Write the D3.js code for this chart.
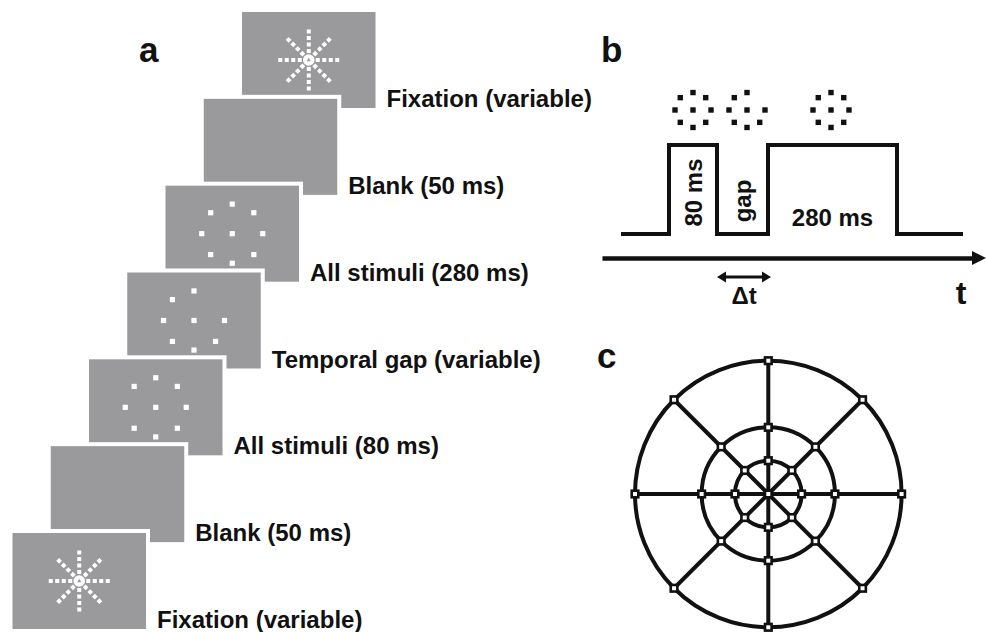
<!DOCTYPE html>
<html><head><meta charset="utf-8">
<script src="https://cdn.jsdelivr.net/npm/d3@7"></script>
<style>
body{margin:0;background:#fff}
svg{display:block}
text{font-family:"Liberation Sans",Arial,sans-serif;font-weight:bold;fill:#111}
</style>
</head><body>
<script>
// ---- Panel a: trial sequence (top = last frame) ----
const frameLabels = ["Fixation (variable)", "Blank (50 ms)", "All stimuli (280 ms)", "Temporal gap (variable)", "All stimuli (80 ms)", "Blank (50 ms)", "Fixation (variable)"];
const frameContents = ["fixation", "blank", "stimuli", "gap", "stimuli", "blank", "fixation"];
// stimulus positions: angle in degrees (null = centre)
const stimAngles = [null, 0, 45, 90, 135, 180, 225, 270, 315];
const gapMissingAngles = [45];
const fixationArmAngles = [0, 45, 90, 135, 180, 225, 270, 315];
const fixationDotSteps = [1, 2, 3, 4];

// ---- Panel b: timing ----
const signalEdges = [0, 80, 160, 245, 460, 570];
const signalLevels = [0, 1, 0, 1, 0, 0];
const signalLabels = [{text: "80 ms", t: 120, rot: true}, {text: "gap", t: 202.5, rot: true}, {text: "280 ms", t: 352.5, rot: false}];
const patternTimes = [120, 210, 350];
const patternTypes = ["stimuli", "gap", "stimuli"];

// ---- Panel c: stimulus layout ----
const ringRadii = [1, 2, 4];
const spokeAngles = [0, 45, 90, 135, 180, 225, 270, 315];

const W = 987, H = 632;
const svg = d3.select("body").append("svg").attr("width", W).attr("height", H);
const GRAY = "#9a9a9c", INK = "#111";
const rad = d => d * Math.PI / 180;

// ---------- Panel a ----------
const idx = d3.range(frameLabels.length);
const fx = d3.scalePoint().domain(idx).range([242, 12.5]);
const fy = d3.scalePoint().domain(idx).range([12, 533]);
const fw = 133.5, fh = 96;
const stimR = d3.scaleLinear().domain([0, 1]).range([0, 30.5]);
const fixR = d3.scaleLinear().domain([0, 1]).range([2.5, 9]);

idx.forEach(i => {
  const g = svg.append("g").attr("transform", `translate(${fx(i)},${fy(i)})`);
  g.append("rect").attr("x", -4).attr("y", -4).attr("width", fw + 8).attr("height", fh + 8).attr("fill", "#fff");
  g.append("rect").attr("width", fw).attr("height", fh).attr("fill", GRAY);
  const c = g.append("g").attr("transform", `translate(${fw / 2},${fh / 2})`);
  const kind = frameContents[i];
  if (kind === "stimuli" || kind === "gap") {
    const pts = stimAngles.filter(a => !(kind === "gap" && gapMissingAngles.includes(a)));
    c.selectAll("rect").data(pts).join("rect")
      .attr("x", a => (a === null ? 0 : stimR(1) * Math.cos(rad(a))) - 2.6)
      .attr("y", a => (a === null ? 0 : -stimR(0.97) * Math.sin(rad(a))) - 2.6)
      .attr("width", 5.2).attr("height", 5.2).attr("fill", "#fff");
  } else if (kind === "fixation") {
    fixationArmAngles.forEach(a => {
      c.selectAll(null).data(fixationDotSteps).join("rect")
        .attr("x", -2).attr("y", -2).attr("width", 4).attr("height", 4)
        .attr("fill", "#fff")
        .attr("transform", s => `rotate(${-a}) translate(${fixR(s)},0)`);
    });
    c.append("circle").attr("r", 5.8).attr("fill", "#fff");
    c.append("path").attr("d", d3.symbol(d3.symbolTriangle, 7)()).attr("fill", GRAY);
  }
});
idx.forEach(i => {
  svg.append("text").attr("x", fx(i) + fw + 11).attr("y", fy(i) + fh - 1)
    .attr("font-size", 24).text(frameLabels[i]);
});

// panel letters
svg.append("text").attr("x", 139).attr("y", 62).attr("font-size", 35).text("a");
svg.append("text").attr("x", 601).attr("y", 62).attr("font-size", 35).text("b");
svg.append("text").attr("x", 597).attr("y", 368).attr("font-size", 35).text("c");

// ---------- Panel b ----------
const xs = d3.scaleLinear().domain([0, 570]).range([621, 963]);
const ys = d3.scaleLinear().domain([0, 1]).range([234, 145]);
const sig = signalEdges.map((t, k) => [t, signalLevels[k]]);
svg.append("path").attr("d", d3.line().x(d => xs(d[0])).y(d => ys(d[1])).curve(d3.curveStepAfter)(sig))
  .attr("fill", "none").attr("stroke", INK).attr("stroke-width", 4).attr("stroke-linejoin", "miter");

// time axis
const axY = 258;
const axScale = d3.scaleLinear().domain([xs.invert(602), xs.invert(976)]).range([602, 976]);
const axG = svg.append("g").attr("transform", `translate(0,${axY})`).call(d3.axisBottom(axScale).ticks(0).tickSizeOuter(0));
axG.select(".domain").attr("stroke", INK).attr("stroke-width", 4.5);
const axEnd = axScale.range()[1];
svg.append("path").attr("d", `M${axEnd - 4},${axY - 7}L${axEnd + 10},${axY}L${axEnd - 4},${axY + 7}Z`).attr("fill", INK);
svg.append("text").attr("x", 961).attr("y", 304).attr("text-anchor", "middle").attr("font-size", 32).text("t");

// delta t double arrow
const dtY = 277, x0 = xs(signalEdges[2]), x1 = xs(signalEdges[3]) + 3;
svg.append("line").attr("x1", x0 + 4).attr("x2", x1 - 4).attr("y1", dtY).attr("y2", dtY).attr("stroke", INK).attr("stroke-width", 3);
svg.append("path").attr("d", `M${x0},${dtY}L${x0 + 9},${dtY - 5.5}L${x0 + 9},${dtY + 5.5}Z M${x1},${dtY}L${x1 - 9},${dtY - 5.5}L${x1 - 9},${dtY + 5.5}Z`).attr("fill", INK);
svg.append("text").attr("x", (x0 + x1) / 2).attr("y", 304).attr("text-anchor", "middle").attr("font-size", 24).text("\u0394t");

// pulse labels
signalLabels.forEach(l => {
  if (l.rot) {
    const cy = l.text === "gap" ? 201 : 192.5;
    const bx = l.text === "gap" ? 751 : 702;
    svg.append("text").attr("transform", `translate(${bx},${cy}) rotate(-90)`).attr("text-anchor", "middle").attr("font-size", 24).text(l.text);
  } else {
    svg.append("text").attr("x", xs(l.t)).attr("y", 226).attr("text-anchor", "middle").attr("font-size", 24).text(l.text);
  }
});

// stimulus patterns above pulses
const pR = d3.scaleLinear().domain([0, 1]).range([0, 18]);
patternTimes.forEach((t, k) => {
  const pts = stimAngles.filter(a => !(patternTypes[k] === "gap" && gapMissingAngles.includes(a)));
  svg.append("g").attr("transform", `translate(${xs(t)},110)`)
    .selectAll("rect").data(pts).join("rect")
    .attr("x", a => (a === null ? 0 : pR(1) * Math.cos(rad(a))) - 2.7)
    .attr("y", a => (a === null ? 0 : -pR(0.97) * Math.sin(rad(a))) - 2.7)
    .attr("width", 5.4).attr("height", 5.4).attr("fill", INK);
});

// ---------- Panel c ----------
const cx = 768.3, cy = 494;
const rS = d3.scaleLinear().domain([0, 4]).range([0, 133.3]);
const gc = svg.append("g").attr("transform", `translate(${cx},${cy})`);
gc.selectAll("circle").data(ringRadii).join("circle").attr("r", d => rS(d))
  .attr("fill", "none").attr("stroke", INK).attr("stroke-width", 4);
gc.selectAll("line").data(spokeAngles).join("line")
  .attr("x1", 0).attr("y1", 0)
  .attr("x2", a => rS(4) * Math.cos(rad(a))).attr("y2", a => -rS(4) * Math.sin(rad(a)))
  .attr("stroke", INK).attr("stroke-width", 4);
const nodes = [[0, 0]].concat(ringRadii.flatMap(r => spokeAngles.map(a => [r, a])));
gc.selectAll("rect").data(nodes).join("rect")
  .attr("x", d => rS(d[0]) * Math.cos(rad(d[1])) - 3.3)
  .attr("y", d => -rS(d[0]) * Math.sin(rad(d[1])) - 3.3)
  .attr("width", 6.6).attr("height", 6.6)
  .attr("fill", "#fff").attr("stroke", INK).attr("stroke-width", 2.6);
</script>
</body></html>
